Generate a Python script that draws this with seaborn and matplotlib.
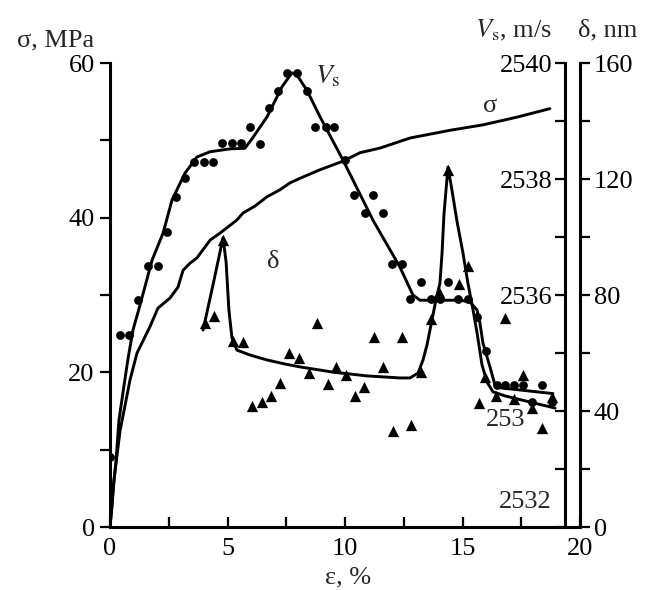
import matplotlib
matplotlib.use("Agg")
import matplotlib.pyplot as plt
import seaborn as sns

# strain, % (shared x) and the measured points
vs_strain = [0.0, 0.43, 0.81, 1.19, 1.62, 2.04, 2.43, 2.81, 3.19, 3.57, 4.0, 4.38,
             4.77, 5.19, 5.57, 5.96, 6.38, 6.77, 7.15, 7.53, 7.96, 8.38, 8.72, 9.19,
             9.53, 10.0, 10.38, 10.85, 11.19, 11.62, 12.0, 12.43, 12.77, 13.23, 13.66,
             14.04, 14.38, 14.81, 15.23, 15.62, 16.0, 16.47, 16.81, 17.19, 17.57,
             17.96, 18.38, 18.81]
vs_points = [2533.21, 2535.31, 2535.31, 2535.91, 2536.50, 2536.50, 2537.09, 2537.69,
             2538.02, 2538.29, 2538.29, 2538.29, 2538.62, 2538.62, 2538.62, 2538.90,
             2538.60, 2539.22, 2539.52, 2539.83, 2539.83, 2539.52, 2538.90, 2538.90,
             2538.90, 2538.33, 2537.72, 2537.41, 2537.72, 2537.41, 2536.53, 2536.53,
             2535.93, 2536.22, 2535.93, 2535.93, 2536.22, 2535.93, 2535.93, 2535.62,
             2535.03, 2534.45, 2534.45, 2534.45, 2534.45, 2534.16, 2534.45, 2534.16]

delta_strain = [4.04, 4.43, 4.81, 5.23, 5.66, 6.04, 6.47, 6.85, 7.23, 7.62, 8.04, 8.47,
                8.81, 9.28, 9.62, 10.04, 10.43, 10.81, 11.23, 11.62, 12.04, 12.43,
                12.81, 13.23, 13.66, 14.0, 14.38, 14.85, 15.23, 15.70, 15.96, 16.43,
                16.81, 17.19, 17.57, 17.96, 18.38, 18.81]
delta_points = [70.3, 72.8, 99.0, 64.1, 63.8, 41.7, 43.1, 45.2, 49.7, 60.0, 58.3, 53.1,
                70.3, 49.3, 55.2, 52.4, 45.2, 48.3, 65.5, 55.2, 33.1, 65.5, 35.2, 53.4,
                71.7, 81.0, 123.1, 83.8, 90.0, 42.8, 51.7, 45.2, 72.1, 44.1, 52.4, 41.0,
                34.1, 44.8]

# fitted curves
vs_fit_x = [0, 0.13, 0.26, 0.38, 0.60, 0.77, 0.98, 1.28, 1.79, 2.26, 2.64, 3.19, 3.70,
            4.26, 5.11, 5.74, 6.09, 6.68, 7.32, 7.74, 7.96, 8.38, 8.94, 9.91, 11.19,
            12.34, 12.89, 13.19, 13.74, 14.89, 15.32, 15.62, 15.74, 15.87, 16.17,
            16.38, 16.60, 18.85]
vs_fit_y = [2532.0, 2532.64, 2533.16, 2533.84, 2534.45, 2534.91, 2535.40, 2535.83,
            2536.60, 2537.07, 2537.64, 2538.10, 2538.38, 2538.47, 2538.52, 2538.53,
            2538.72, 2539.07, 2539.59, 2539.83, 2539.79, 2539.53, 2539.07, 2538.33,
            2537.29, 2536.48, 2536.0, 2535.91, 2535.91, 2535.91, 2535.88, 2535.74,
            2535.52, 2535.17, 2534.76, 2534.45, 2534.40, 2534.30]

delta_fit_x = [3.96, 4.38, 4.81, 4.94, 5.06, 5.19, 5.40, 5.96, 6.68, 7.45, 8.09, 9.49,
               10.94, 12.34, 12.77, 13.11, 13.32, 13.49, 13.70, 13.87, 14.04, 14.13,
               14.21, 14.38, 14.55, 14.77, 15.02, 15.23, 15.45, 15.62, 15.83, 16.04,
               16.30, 16.81, 17.87, 18.94]
delta_fit_y = [67.9, 83.4, 99.7, 91.4, 74.8, 65.2, 61.0, 59.3, 57.6, 56.2, 55.2, 53.4,
               52.1, 51.4, 51.4, 53.1, 57.6, 62.8, 71.4, 78.3, 84.1, 94.5, 107.6, 124.1,
               116.2, 105.2, 94.5, 84.1, 74.8, 66.9, 55.9, 50.0, 46.6, 45.2, 43.1, 41.0]

sigma_x = [0, 0.09, 0.17, 0.30, 0.43, 0.60, 0.85, 1.15, 1.70, 2.04, 2.55, 2.89, 3.11,
           3.40, 3.70, 4.26, 4.68, 5.40, 5.66, 6.17, 6.68, 7.23, 7.66, 8.09, 8.94,
           9.91, 10.64, 11.49, 12.77, 14.47, 15.87, 17.32, 18.72]
sigma_y = [0, 2.8, 6.1, 9.3, 12.5, 15.1, 19.0, 22.5, 25.9, 28.3, 29.6, 31.0, 33.2, 34.1,
           34.8, 37.1, 38.0, 39.7, 40.6, 41.5, 42.7, 43.6, 44.5, 45.1, 46.2, 47.3,
           48.4, 49.0, 50.3, 51.3, 52.0, 53.0, 54.1]

sns.set_theme(style="ticks")
plt.rcParams['font.family'] = ['Liberation Serif', 'DejaVu Serif']
plt.rcParams['mathtext.fontset'] = 'stix'

FS = 19
LW = 2.1

fig = plt.figure(figsize=(6.58, 5.90), dpi=100)
ax = fig.add_axes([110 / 658, 1 - 527 / 590, 470 / 658, 464 / 590])
ax_v = ax.twinx()
ax_d = ax.twinx()

# sigma curve on the left axis
sns.lineplot(x=sigma_x, y=sigma_y, ax=ax, color='black', linewidth=LW,
             sort=False, estimator=None)

# Vs: points + fit
sns.lineplot(x=vs_fit_x, y=vs_fit_y, ax=ax_v, color='black', linewidth=LW,
             sort=False, estimator=None)
sns.scatterplot(x=vs_strain, y=vs_points, ax=ax_v, color='black', marker='o',
                s=40, linewidth=0, zorder=3)

# delta: points + fit
sns.lineplot(x=delta_fit_x, y=delta_fit_y, ax=ax_d, color='black', linewidth=LW,
             sort=False, estimator=None)
sns.scatterplot(x=delta_strain, y=delta_points, ax=ax_d, color='black', marker='^',
                s=66, linewidth=0, zorder=3)

# main axes
ax.set_xlim(0, 20)
ax.set_ylim(0, 60)
ax.set_xticks([0, 2.5, 5, 7.5, 10, 12.5, 15, 17.5, 20])
ax.set_xticklabels(['0', '', '5', '', '10', '', '15', '', '20'])
ax.set_yticks([0, 10, 20, 30, 40, 50, 60])
ax.set_yticklabels(['0', '', '20', '', '40', '', '60'])
ax.tick_params(axis='x', direction='in', length=7, width=1.6, labelsize=FS, pad=8,
               color='black', labelcolor='black')
ax.tick_params(axis='y', direction='out', length=7, width=1.6, labelsize=FS, pad=4,
               color='black', labelcolor='black')
for side in ['top', 'right']:
    ax.spines[side].set_visible(False)
for side in ['left', 'bottom']:
    ax.spines[side].set_linewidth(2.2)
    ax.spines[side].set_color('black')
ax.set_xlabel('')
ax.set_ylabel('')

# Vs axis sits just inside the right edge, ticks pointing left
ax_v.set_ylim(2532, 2540)
for side in ['top', 'bottom', 'right']:
    ax_v.spines[side].set_visible(False)
ax_v.spines['left'].set_visible(True)
ax_v.spines['left'].set_position(('axes', 0.968))
ax_v.spines['left'].set_linewidth(2.2)
ax_v.spines['left'].set_color('black')
ax_v.yaxis.set_ticks_position('left')
ax_v.yaxis.set_label_position('left')
ax_v.set_yticks(list(range(2532, 2541)))
ax_v.set_yticklabels(['', '', '', '', '2536', '', '2538', '', '2540'])
ax_v.tick_params(axis='y', direction='out', length=7, width=1.6, labelsize=FS, pad=2,
                 color='black', labelcolor='black')
ax_v.set_ylabel('')
ax_v.text(17.66, 2533.84, '253', fontsize=FS, ha='right', va='center')
ax_v.text(18.81, 2532.43, '2532', fontsize=FS, ha='right', va='center')

# delta axis on the right edge
ax_d.set_ylim(0, 160)
for side in ['top', 'bottom', 'left']:
    ax_d.spines[side].set_visible(False)
ax_d.spines['right'].set_linewidth(2.2)
ax_d.spines['right'].set_color('black')
ax_d.set_yticks([0, 20, 40, 60, 80, 100, 120, 140, 160])
ax_d.set_yticklabels(['0', '', '40', '', '80', '', '120', '', '160'])
ax_d.tick_params(axis='y', direction='out', length=7, width=1.6, labelsize=FS, pad=3,
                 color='black', labelcolor='black')
ax_d.set_ylabel('')

# curve labels
ax.text(8.72, 57.4, r'$V_{\rm s}$', fontsize=FS + 1, ha='left', va='baseline')
ax.text(16.17, 54.4, 'σ', fontsize=FS, ha='center', va='center')
ax.text(6.94, 34.3, 'δ', fontsize=FS, ha='center', va='center')

# axis titles
fig.text(17 / 658, 1 - 40 / 590, 'σ, MPa', fontsize=FS, ha='left', va='center')
fig.text(552 / 658, 1 - 30 / 590, r'$V_{\rm s}$, m/s', fontsize=FS, ha='right',
         va='center')
fig.text(578 / 658, 1 - 30 / 590, 'δ, nm', fontsize=FS, ha='left', va='center')
fig.text(348 / 658, 1 - 577 / 590, 'ε, %', fontsize=FS, ha='center', va='center')

fig.savefig('out.png', dpi=100, facecolor='white')
